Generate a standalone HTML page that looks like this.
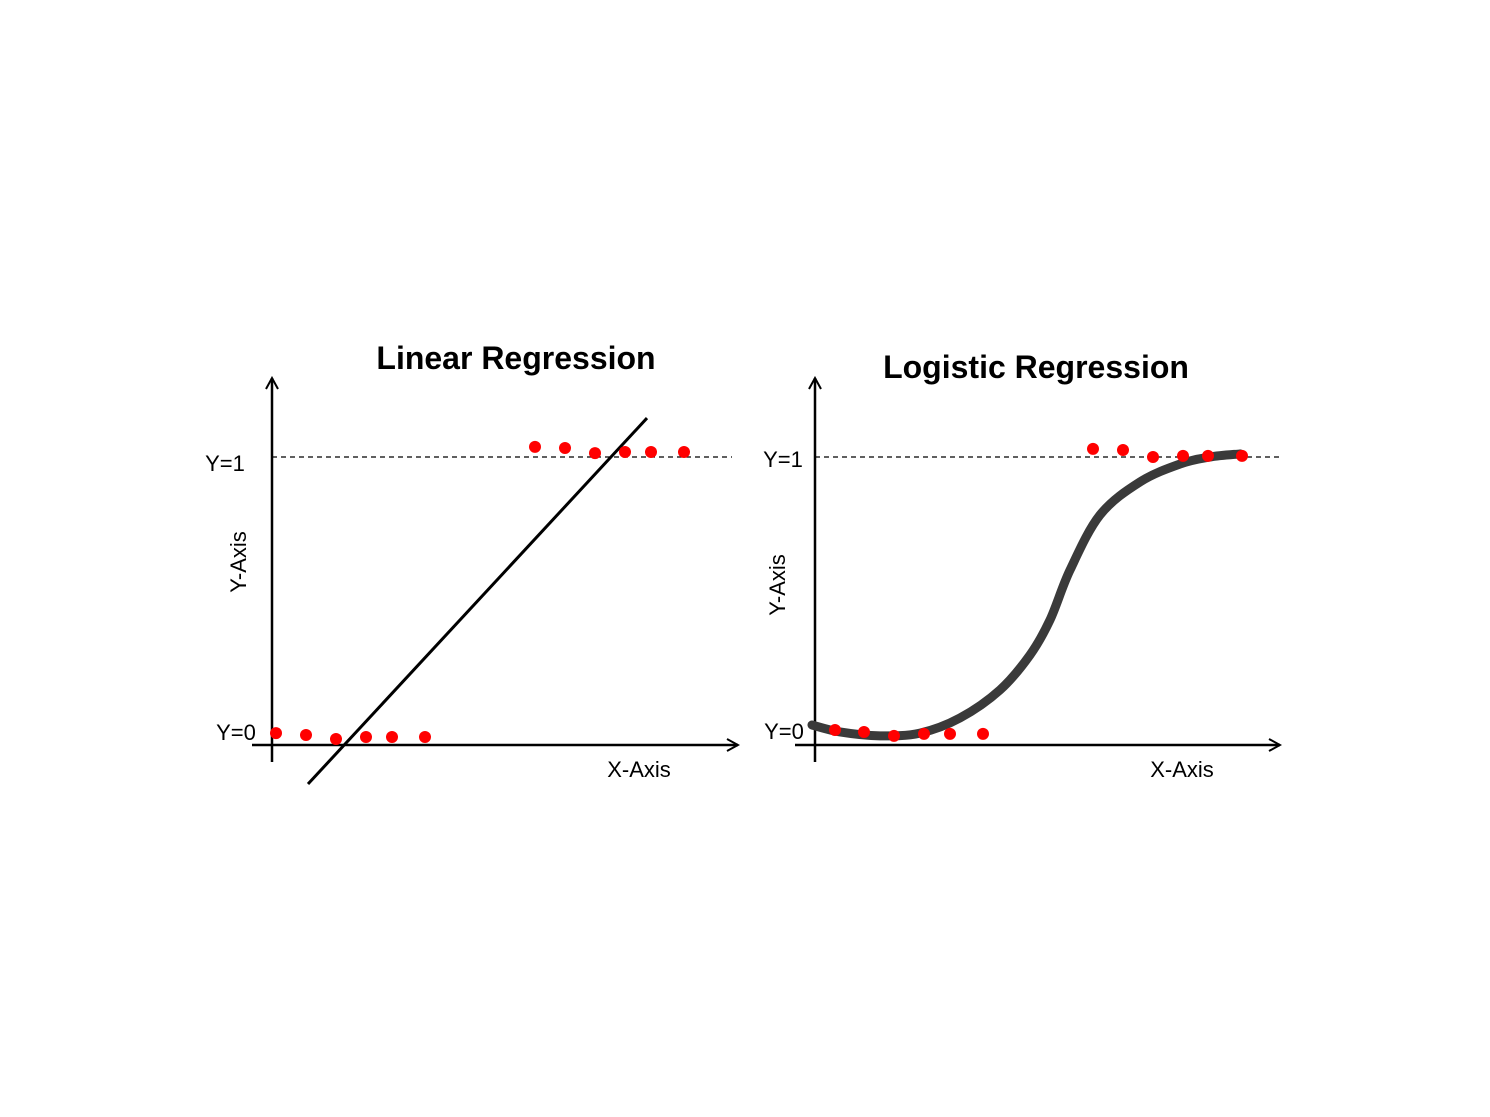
<!DOCTYPE html>
<html><head><meta charset="utf-8"><style>
html,body{margin:0;padding:0;background:#fff;}
svg{display:block;}
text{font-family:"Liberation Sans",sans-serif;fill:#000;}
</style></head><body>
<svg id="chart" width="1490" height="1117" viewBox="0 0 1490 1117">
<defs>
<marker id="arr" markerWidth="14" markerHeight="14" refX="12" refY="7" orient="auto" markerUnits="userSpaceOnUse">
<path d="M1,1 L12,7 L1,13" fill="none" stroke="#000" stroke-width="2"/>
</marker>
</defs>
<g id="left">
<text x="516" y="369" text-anchor="middle" font-size="32" font-weight="bold">Linear Regression</text>
<line x1="272" y1="762" x2="272" y2="378" stroke="#000" stroke-width="2.5" marker-end="url(#arr)"/>
<line x1="252" y1="745" x2="738" y2="745" stroke="#000" stroke-width="2.5" marker-end="url(#arr)"/>
<line x1="272" y1="457" x2="732" y2="457" stroke="#000" stroke-width="1.3" stroke-dasharray="5,4"/>
<text x="225" y="471" text-anchor="middle" font-size="22">Y=1</text>
<text x="236" y="740" text-anchor="middle" font-size="22">Y=0</text>
<text x="0" y="0" transform="translate(246,562) rotate(-90)" text-anchor="middle" font-size="22">Y-Axis</text>
<text x="639" y="777" text-anchor="middle" font-size="22">X-Axis</text>
</g>
<g id="right">
<text x="1036" y="378" text-anchor="middle" font-size="32" font-weight="bold">Logistic Regression</text>
<line x1="815" y1="762" x2="815" y2="378" stroke="#000" stroke-width="2.5" marker-end="url(#arr)"/>
<line x1="795" y1="745" x2="1280" y2="745" stroke="#000" stroke-width="2.5" marker-end="url(#arr)"/>
<line x1="815" y1="457" x2="1280" y2="457" stroke="#000" stroke-width="1.3" stroke-dasharray="5,4"/>
<text x="783" y="467" text-anchor="middle" font-size="22">Y=1</text>
<text x="784" y="739" text-anchor="middle" font-size="22">Y=0</text>
<text x="0" y="0" transform="translate(785,585) rotate(-90)" text-anchor="middle" font-size="22">Y-Axis</text>
<text x="1182" y="777" text-anchor="middle" font-size="22">X-Axis</text>
</g>
</svg>
<script>
// Linear panel data
const linBottomX = [0.08, 0.68, 1.28, 1.88, 2.4, 3.06];
const linBottomY = [0.014, 0.007, -0.007, 0, 0, 0];
const linTopX = [5.26, 5.86, 6.46, 7.06, 7.58, 8.24];
const linTopY = [1.036, 1.032, 1.014, 1.018, 1.018, 1.018];
const linLineX = [0.72, 7.5];
const linLineY = [-0.168, 1.139];
// Logistic panel data
const logBottomX = [0.4, 0.98, 1.58, 2.18, 2.7, 3.36];
const logBottomY = [0.025, 0.018, 0.004, 0.011, 0.011, 0.011];
const logTopX = [5.56, 6.16, 6.76, 7.36, 7.86, 8.54];
const logTopY = [1.029, 1.025, 1.0, 1.004, 1.004, 1.004];
const logCurveX = [-0.06, 0.5, 1.3, 2.1, 2.9, 3.7, 4.3, 4.7, 5.1, 5.7, 6.5, 7.3, 7.9, 8.5];
const logCurveY = [0.043, 0.018, 0.004, 0.014, 0.068, 0.168, 0.293, 0.418, 0.596, 0.793, 0.911, 0.975, 1.0, 1.011];

const NS = "http://www.w3.org/2000/svg";
function xs(origin){ return v => origin + v * 50; }
function ys(v){ return 737 - v * 280; }

function dots(g, X, Y, sx, name){
  X.forEach((xv, i) => {
    const c = document.createElementNS(NS, "circle");
    c.setAttribute("cx", sx(xv));
    c.setAttribute("cy", ys(Y[i]));
    c.setAttribute("r", 6);
    c.setAttribute("fill", "#ff0000");
    
    
    g.appendChild(c);
  });
}
function smoothPath(pts){
  let d = "M" + pts[0][0] + "," + pts[0][1];
  for (let i = 0; i < pts.length - 1; i++){
    const p0 = pts[i-1] || pts[i], p1 = pts[i], p2 = pts[i+1], p3 = pts[i+2] || p2;
    const c1 = [p1[0] + (p2[0]-p0[0])/6, p1[1] + (p2[1]-p0[1])/6];
    const c2 = [p2[0] - (p3[0]-p1[0])/6, p2[1] - (p3[1]-p1[1])/6];
    d += " C" + c1 + " " + c2 + " " + p2;
  }
  return d;
}

const gl = document.getElementById("left");
const sxl = xs(272);
const ln = document.createElementNS(NS, "line");
ln.setAttribute("x1", sxl(linLineX[0])); ln.setAttribute("y1", ys(linLineY[0]));
ln.setAttribute("x2", sxl(linLineX[1])); ln.setAttribute("y2", ys(linLineY[1]));
ln.setAttribute("stroke", "#000"); ln.setAttribute("stroke-width", "3");


gl.appendChild(ln);
dots(gl, linBottomX, linBottomY, sxl, "linear-point-class0");
dots(gl, linTopX, linTopY, sxl, "linear-point-class1");

const gr = document.getElementById("right");
const sxr = xs(815);
const pts = logCurveX.map((xv, i) => [sxr(xv), ys(logCurveY[i])]);
const cp = document.createElementNS(NS, "path");
cp.setAttribute("d", smoothPath(pts));
cp.setAttribute("fill", "none");
cp.setAttribute("stroke", "#3a3a3a");
cp.setAttribute("stroke-width", "9");
cp.setAttribute("stroke-linecap", "round");


gr.appendChild(cp);
dots(gr, logBottomX, logBottomY, sxr, "logistic-point-class0");
dots(gr, logTopX, logTopY, sxr, "logistic-point-class1");
</script>
</body></html>
